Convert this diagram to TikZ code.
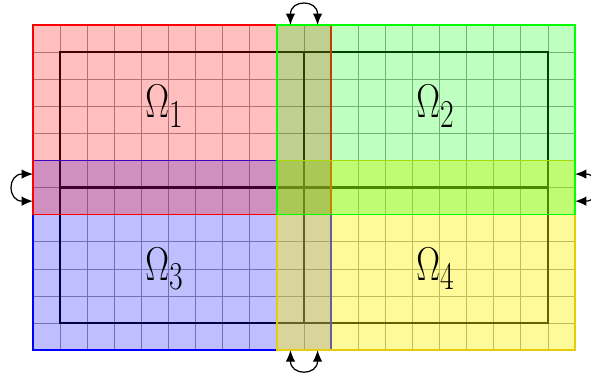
\documentclass[tikz,border=0pt]{standalone}
\usetikzlibrary{arrows.meta}
\definecolor{goldline}{RGB}{228,205,10}
\begin{document}
\begin{tikzpicture}[x=1cm,y=1cm,
  gridline/.style={black!40, line width=0.8pt},
  thickline/.style={black, line width=2.4pt},
  region/.style={fill=#1, fill opacity=0.25, draw=#1, draw opacity=1, line width=1.6pt},
  swaparrow/.style={{Latex[length=12pt,width=10pt]}-{Latex[length=12pt,width=10pt]}, line width=1.3pt},
  domlabel/.style={font=\Huge, xscale=1.5, yscale=2.0, transform shape}]
\clip (-1.218,-1.063) rectangle (20.59,12.9225);
\draw[gridline] (0,0) grid (20,12);
\draw[thickline] (1,1) rectangle (19,11) (10,1) -- (10,11) (1,6) -- (19,6);
\path[region=blue] (0,0) rectangle (11,7);
\path[region=red] (0,5) rectangle (11,12);
\path[region=yellow, fill opacity=0.4, draw=goldline] (9,0) rectangle (20,7);
\path[region=green] (9,5) rectangle (20,12);
\node[domlabel] (o1) at (4.85,9) {$\Omega_1$};
\node[domlabel] (o2) at (14.85,9) {$\Omega_2$};
\node[domlabel] (o3) at (4.85,3) {$\Omega_3$};
\node[domlabel] (o4) at (14.85,3) {$\Omega_4$};
\coordinate (t1) at (9.5,12);
\coordinate (t2) at (10.5,12);
\coordinate (b1) at (9.5,0);
\coordinate (b2) at (10.5,0);
\coordinate (l1) at (0,6.5);
\coordinate (l2) at (0,5.5);
\coordinate (r1) at (20,6.5);
\coordinate (r2) at (20,5.5);
\draw[swaparrow] (t1) .. controls +(0,0.95) and +(0,0.95) .. (t2);
\draw[swaparrow] (b1) .. controls +(0,-0.95) and +(0,-0.95) .. (b2);
\draw[swaparrow] (l1) .. controls +(-0.95,0) and +(-0.95,0) .. (l2);
\draw[swaparrow] (r1) .. controls +(0.95,0) and +(0.95,0) .. (r2);
\end{tikzpicture}
\end{document}
